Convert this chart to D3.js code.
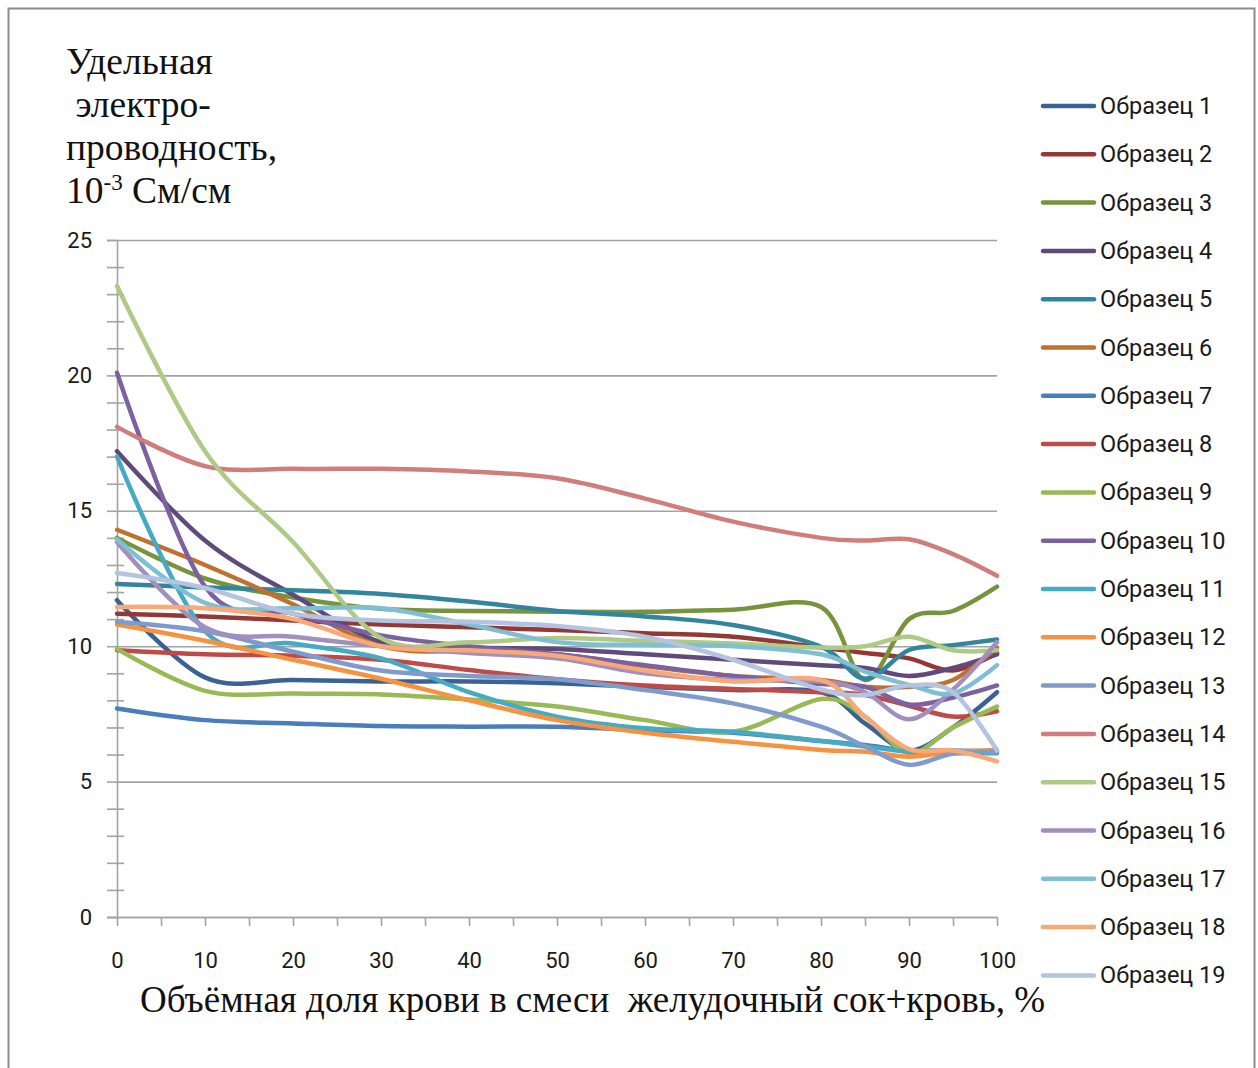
<!DOCTYPE html>
<html>
<head>
<meta charset="utf-8">
<script src="https://cdn.jsdelivr.net/npm/d3@7/dist/d3.min.js"></script>
<style>
  html, body { margin: 0; padding: 0; background: #fff; }
  svg { display: block; }
</style>
</head>
<body>
<svg id="chart" width="1258" height="1068"></svg>
<script>
// Blood volume fraction in the gastric juice + blood mixture, %
const bloodShare = [0, 10, 20, 30, 40, 50, 60, 70, 80, 85, 90, 95, 100];

// Specific conductivity, 10^-3 S/cm, one array per sample
const sample1  = [11.7, 8.85, 8.75, 8.7, 8.7, 8.63, 8.5, 8.38, 8.3, 7.15, 6.15, 7.0, 8.3];
const sample2  = [11.2, 11.1, 10.95, 10.8, 10.7, 10.6, 10.48, 10.35, 9.95, 9.75, 9.55, 9.1, 9.75];
const sample3  = [14.0, 12.5, 11.8, 11.38, 11.3, 11.27, 11.27, 11.35, 11.45, 8.75, 11.0, 11.3, 12.2];
const sample4  = [17.2, 13.9, 11.9, 10.15, 9.95, 9.9, 9.7, 9.5, 9.3, 9.2, 8.9, 9.2, 9.7];
const sample5  = [12.3, 12.17, 12.07, 11.93, 11.65, 11.3, 11.1, 10.78, 9.98, 8.8, 9.86, 10.04, 10.25];
const sample6  = [14.3, 13.0, 11.55, 10.0, 9.8, 9.7, 9.27, 8.9, 8.75, 8.5, 8.5, 8.75, 9.95];
const sample7  = [7.7, 7.27, 7.15, 7.05, 7.03, 7.03, 6.9, 6.8, 6.5, 6.35, 6.15, 6.15, 6.1];
const sample8  = [9.85, 9.7, 9.65, 9.5, 9.12, 8.78, 8.55, 8.42, 8.3, 8.2, 7.8, 7.4, 7.6];
const sample9  = [9.9, 8.35, 8.25, 8.22, 8.03, 7.77, 7.27, 6.84, 8.05, 7.4, 6.05, 7.0, 7.77];
const sample10 = [20.1, 12.2, 11.2, 10.4, 10.0, 9.7, 9.3, 8.9, 8.6, 8.5, 7.85, 8.1, 8.55];
const sample11 = [17.0, 10.55, 10.1, 9.55, 8.3, 7.4, 6.97, 6.84, 6.5, 6.3, 6.1, 6.05, 6.05];
const sample12 = [10.8, 10.2, 9.5, 8.8, 8.0, 7.27, 6.8, 6.47, 6.17, 6.1, 5.92, 6.1, 6.17];
const sample13 = [10.9, 10.55, 9.8, 9.1, 8.9, 8.78, 8.38, 7.89, 7.03, 6.3, 5.62, 6.04, 6.1];
const sample14 = [18.1, 16.65, 16.55, 16.55, 16.45, 16.2, 15.45, 14.6, 14.0, 13.9, 13.95, 13.4, 12.6];
const sample15 = [23.3, 17.2, 13.85, 10.3, 10.15, 10.3, 10.2, 10.1, 9.95, 10.0, 10.35, 9.85, 9.85];
const sample16 = [13.85, 10.7, 10.35, 10.0, 9.75, 9.55, 9.0, 8.75, 8.7, 8.3, 7.3, 8.4, 10.15];
const sample17 = [13.95, 11.6, 11.4, 11.4, 10.8, 10.15, 10.04, 10.0, 9.7, 9.06, 8.57, 8.26, 9.3];
const sample18 = [11.45, 11.4, 11.0, 10.0, 9.85, 9.65, 9.1, 8.7, 8.75, 7.4, 6.2, 6.15, 5.75];
const sample19 = [12.7, 12.15, 11.2, 10.95, 10.9, 10.75, 10.35, 9.5, 8.4, 8.2, 8.55, 8.3, 6.15];

const sampleNames = d3.range(1, 20).map(i => "Образец " + i);

const yMajorTicks = [0, 5, 10, 15, 20, 25];
const xMajorTicks = [0, 10, 20, 30, 40, 50, 60, 70, 80, 90, 100];

const titleLines = ["Удельная", " электро-", "проводность,"];
const xTitle = "Объёмная доля крови в смеси  желудочный сок+кровь, %";

// Line colours (office palette: shaded, base, tinted)
const palette = [
  "#3a6394", "#943836", "#77933c", "#604a7c", "#32859c", "#c0712f",
  "#4a7ebb", "#be4b48", "#98b954", "#7d60a0", "#46aac5", "#f69240",
  "#7e9bcb", "#d07e7c", "#afca85", "#a190be", "#7fbfd4", "#f9a877",
  "#b3c3e0"
];

const allSamples = [sample1, sample2, sample3, sample4, sample5, sample6, sample7,
  sample8, sample9, sample10, sample11, sample12, sample13, sample14, sample15,
  sample16, sample17, sample18, sample19];

const series = allSamples.map((vals, i) => ({
  name: sampleNames[i],
  color: palette[i],
  points: vals.map((v, j) => ({ x: bloodShare[j], y: v }))
}));

const svg = d3.select("#chart");
const W = 1258, H = 1068;
const plot = { left: 117, right: 997, top: 240, bottom: 917 };
const gridColor = "#a3a3a3";
const labelFont = "Roboto, 'Noto Sans', sans-serif";
const serifFont = "'Liberation Serif', 'DejaVu Serif', serif";

svg.append("rect").attr("width", W).attr("height", H).attr("fill", "#fff");
// outer chart frame
svg.append("rect")
  .attr("x", 8.5).attr("y", 8.5)
  .attr("width", 1246).attr("height", 1080)
  .attr("fill", "none").attr("stroke", "#8c8c8c").attr("stroke-width", 2);

const x = d3.scaleLinear().domain([0, 100]).range([plot.left, plot.right]);
const y = d3.scaleLinear().domain([0, 25]).range([plot.bottom, plot.top]);

// horizontal gridlines
svg.append("g")
  .attr("transform", `translate(${plot.left},0)`)
  .call(d3.axisLeft(y).tickValues(yMajorTicks).tickSize(-(plot.right - plot.left)).tickFormat(""))
  .call(g => g.select(".domain").remove())
  .call(g => g.selectAll("line").attr("stroke", gridColor).attr("stroke-width", 1.6));

// y axis with major labels
svg.append("g")
  .attr("transform", `translate(${plot.left},0)`)
  .call(d3.axisLeft(y).tickValues(yMajorTicks).tickSize(10).tickPadding(15))
  .call(g => g.select(".domain").attr("stroke", gridColor).attr("stroke-width", 1.6))
  .call(g => g.selectAll("line").attr("stroke", gridColor).attr("stroke-width", 1.6))
  .call(g => g.selectAll("text")
    .attr("font-family", labelFont).attr("font-size", 22).attr("fill", "#1a1a1a"));

// y minor ticks crossing the axis
const yMinor = d3.range(1, 25).filter(v => v % 5 !== 0);
svg.append("g")
  .attr("transform", `translate(${plot.left},0)`)
  .call(d3.axisLeft(y).tickValues(yMinor).tickSize(10).tickFormat(""))
  .call(g => g.select(".domain").remove())
  .call(g => g.selectAll("line").attr("x2", -10).attr("x1", 7)
    .attr("stroke", gridColor).attr("stroke-width", 1.6));

// x axis with major labels
svg.append("g")
  .attr("transform", `translate(0,${plot.bottom})`)
  .call(d3.axisBottom(x).tickValues(xMajorTicks).tickSize(9).tickPadding(26))
  .call(g => g.select(".domain").attr("stroke", gridColor).attr("stroke-width", 1.6)
    .attr("d", `M${plot.left - 10},0.5H${plot.right}`))
  .call(g => g.selectAll("line").attr("stroke", gridColor).attr("stroke-width", 1.6))
  .call(g => g.selectAll("text")
    .attr("font-family", labelFont).attr("font-size", 22).attr("fill", "#1a1a1a"));

// x minor ticks
svg.append("g")
  .attr("transform", `translate(0,${plot.bottom})`)
  .call(d3.axisBottom(x).tickValues(d3.range(5, 100, 10)).tickSize(9).tickFormat(""))
  .call(g => g.select(".domain").remove())
  .call(g => g.selectAll("line").attr("stroke", gridColor).attr("stroke-width", 1.6));

// smoothed sample curves
const line = d3.line()
  .x(d => x(d.x))
  .y(d => y(d.y))
  .curve(d3.curveCatmullRom.alpha(0));

svg.append("g")
  .selectAll("path")
  .data(series)
  .join("path")
  .attr("d", d => line(d.points))
  .attr("fill", "none")
  .attr("stroke", d => d.color)
  .attr("stroke-width", 4.5)
  .attr("stroke-linejoin", "round")
  .attr("stroke-linecap", "round");

// y axis title (multi-line)
const title = svg.append("g")
  .attr("font-family", serifFont)
  .attr("font-size", 37.5)
  .attr("fill", "#111");
titleLines.forEach((t, i) => {
  title.append("text")
    .attr("x", 66).attr("y", 74 + i * 43)
    .style("white-space", "pre")
    .text(t);
});
const unitLine = title.append("text").attr("x", 66).attr("y", 74 + 3 * 43);
unitLine.append("tspan").text("10");
unitLine.append("tspan").attr("font-size", 23).attr("dy", -13).text("-3");
unitLine.append("tspan").attr("dy", 13).text(" См/см");

// x axis title
svg.append("text")
  .attr("x", 140).attr("y", 1012)
  .attr("font-family", serifFont)
  .attr("font-size", 37)
  .attr("fill", "#111")
  .style("white-space", "pre")
  .text(xTitle);

// legend
const legend = svg.append("g")
  .selectAll("g")
  .data(series)
  .join("g")
  .attr("transform", (d, i) => `translate(0,${106 + i * 48.3})`);
legend.append("line")
  .attr("x1", 1043).attr("x2", 1094)
  .attr("stroke", d => d.color)
  .attr("stroke-width", 4.5)
  .attr("stroke-linecap", "round");
legend.append("text")
  .attr("x", 1100).attr("y", 8)
  .attr("font-family", labelFont)
  .attr("font-size", 23.5)
  .attr("fill", "#1a1a1a")
  .text(d => d.name);
</script>
</body>
</html>
